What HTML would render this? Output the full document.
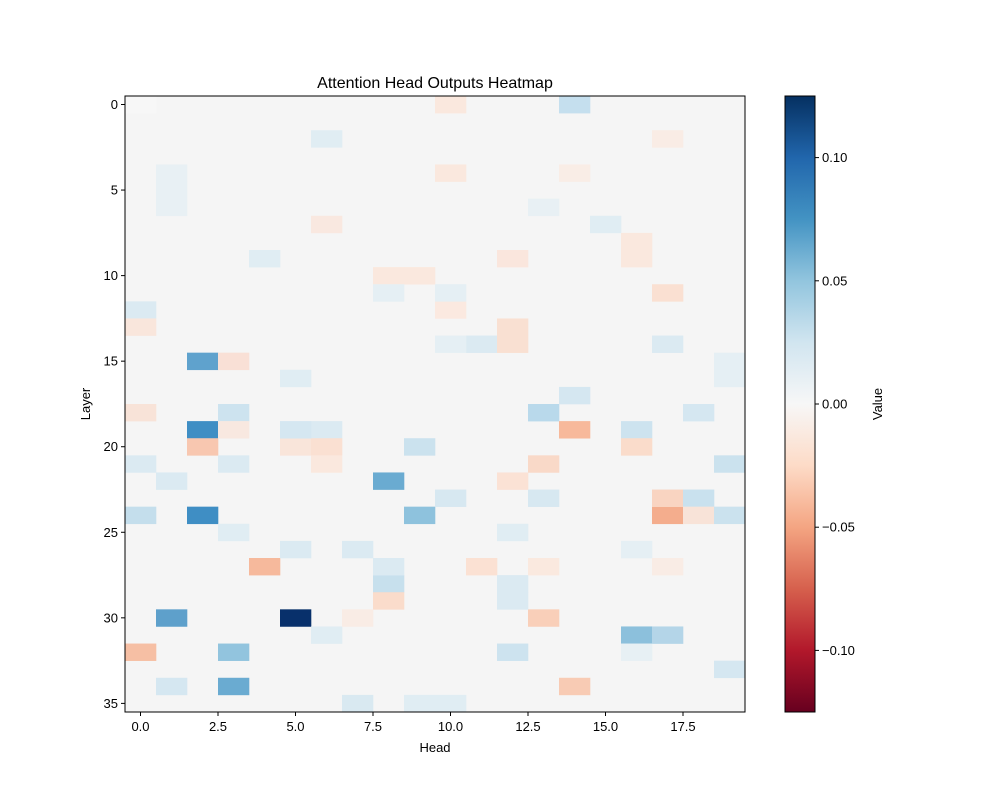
<!DOCTYPE html>
<html><head><meta charset="utf-8"><style>
body{margin:0;background:#fff}
svg{display:block;font-family:"Liberation Sans","DejaVu Sans",sans-serif}
</style></head><body>
<svg id="s" width="1000" height="800" xmlns="http://www.w3.org/2000/svg">
<defs><linearGradient id="g" x1="0" y1="1" x2="0" y2="0">
<stop offset="0" stop-color="#67001f"/><stop offset="0.1" stop-color="#b2182b"/><stop offset="0.2" stop-color="#d6604d"/><stop offset="0.3" stop-color="#f4a582"/><stop offset="0.4" stop-color="#fddbc7"/><stop offset="0.5" stop-color="#f7f7f7"/><stop offset="0.6" stop-color="#d1e5f0"/><stop offset="0.7" stop-color="#92c5de"/><stop offset="0.8" stop-color="#4393c3"/><stop offset="0.9" stop-color="#2166ac"/><stop offset="1" stop-color="#053061"/>
</linearGradient></defs>
<rect x="125" y="96" width="620" height="616" fill="#f5f5f5"/>
<g id="cells"></g>
<rect x="125" y="96" width="620" height="616" fill="none" stroke="#000" stroke-width="1"/>
<text x="435" y="88" font-size="16" text-anchor="middle">Attention Head Outputs Heatmap</text>
<g id="ticks" font-size="13"></g>
<text x="435" y="752" font-size="13" text-anchor="middle">Head</text>
<text transform="translate(90,404) rotate(-90)" font-size="13" text-anchor="middle">Layer</text>
<rect x="785" y="96" width="30" height="616" fill="url(#g)" stroke="#000" stroke-width="1"/>
<text transform="translate(882,404) rotate(-90)" font-size="13" text-anchor="middle">Value</text>
</svg>
<script>
var C=[[14,0,'#c5dfee'],[2,15,'#5fa2cd'],[3,15,'#f9e0d6'],[2,19,'#3f8ec4'],[2,20,'#f8c7b0'],[3,18,'#cde3ef'],[3,19,'#f8e8e0'],[13,18,'#b9d9eb'],[14,17,'#d5e7f1'],[14,19,'#f7b99b'],[16,19,'#cde3ef'],[16,20,'#fadccb'],[18,18,'#d5e7f1'],[9,20,'#cbe2ee'],[6,19,'#dbeaf2'],[8,22,'#6aabd1'],[0,21,'#dbeaf2'],[1,22,'#dbeaf2'],[19,21,'#cbe2ee'],[2,24,'#3f8ec4'],[9,24,'#8ec2dd'],[0,24,'#c4deec'],[17,24,'#f4ad8d'],[17,23,'#f9d4c1'],[18,23,'#c9e1ee'],[18,24,'#f8e3d8'],[19,24,'#cbe2ee'],[13,21,'#f9d9c8'],[12,22,'#fbe2d5'],[10,23,'#d7e8f1'],[13,23,'#d7e8f1'],[4,27,'#f6b99c'],[5,30,'#08306b'],[1,30,'#5ea0cb'],[13,30,'#f9cfb9'],[16,31,'#8cc0dc'],[17,31,'#b4d5e8'],[0,32,'#f6bfa4'],[3,32,'#92c4de'],[3,34,'#6aabd1'],[1,34,'#d5e7f1'],[12,32,'#cde3ef'],[14,34,'#f8cbb4'],[8,28,'#c7e0ed'],[8,29,'#fadccb'],[11,27,'#fbe1d3'],[12,28,'#dbeaf2'],[12,29,'#dbeaf2'],[6,31,'#e0edf3'],[19,33,'#d5e7f1'],[7,35,'#d9e9f1'],[9,35,'#e0edf3'],[10,35,'#e0edf3'],[12,25,'#e0edf3'],[5,26,'#dbeaf2'],[7,26,'#dbeaf2'],[8,27,'#dbeaf2'],[5,20,'#f9e5da'],[6,20,'#fae0d2'],[6,21,'#fae8de'],[0,12,'#dbeaf2'],[0,13,'#f9e6dc'],[0,18,'#f8e3d8'],[12,13,'#f9e0d2'],[10,12,'#fbe9e0'],[4,9,'#e0edf3'],[16,8,'#fae8de'],[16,9,'#fae8de'],[8,10,'#fae8de'],[9,10,'#fae8de'],[6,7,'#f9e8e0'],[15,7,'#e0edf3'],[12,9,'#fae6dd'],[10,4,'#fae8de'],[6,2,'#e0edf3'],[10,0,'#fae8de'],[17,11,'#fae0d2'],[17,14,'#dbeaf2'],[11,14,'#dbeaf2'],[10,14,'#e5eff4'],[12,14,'#f9e0d2'],[3,21,'#dbeaf2'],[3,25,'#e0edf3'],[5,16,'#e0edf3'],[5,19,'#d5e7f1'],[16,26,'#e5eff4'],[17,27,'#f9ece5'],[13,27,'#fae9df'],[19,15,'#e5eff4'],[19,16,'#e5eff4'],[16,32,'#e7f0f4'],[8,11,'#e5eff4'],[10,11,'#e5eff4'],[1,4,'#e8f0f4'],[1,5,'#e8f0f4'],[1,6,'#e8f0f4'],[7,30,'#f9ece5'],[13,6,'#e8f0f4'],[14,4,'#f9ede6'],[17,2,'#f9ece5'],[0,0,'#f7f7f7']];
var ns='http://www.w3.org/2000/svg',cw=31,ch=616/36,g=document.getElementById('cells');
C.forEach(function(c){var r=document.createElementNS(ns,'rect');r.setAttribute('x',125+c[0]*cw);r.setAttribute('y',96+c[1]*ch);r.setAttribute('width',cw+0.3);r.setAttribute('height',ch+0.3);r.setAttribute('fill',c[2]);g.appendChild(r);});
var t=document.getElementById('ticks'),h='';
['0.0','2.5','5.0','7.5','10.0','12.5','15.0','17.5'].forEach(function(l,i){var x=140.5+31*2.5*i;h+='<line x1="'+x+'" y1="712" x2="'+x+'" y2="716" stroke="#000"/><text x="'+x+'" y="731" text-anchor="middle">'+l+'</text>';});
for(var k=0;k<8;k++){var y=104.5+ch*5*k;h+='<line x1="121" y1="'+y+'" x2="125" y2="'+y+'" stroke="#000"/><text x="118" y="'+(y+4.5)+'" text-anchor="end">'+(5*k)+'</text>';}
[['0.10',157.6],['0.05',280.8],['0.00',404],['\u22120.05',527.2],['\u22120.10',650.4]].forEach(function(a){h+='<line x1="815" y1="'+a[1]+'" x2="819" y2="'+a[1]+'" stroke="#000"/><text x="822" y="'+(a[1]+4.5)+'">'+a[0]+'</text>';});
t.innerHTML=h;
</script>
</body></html>
